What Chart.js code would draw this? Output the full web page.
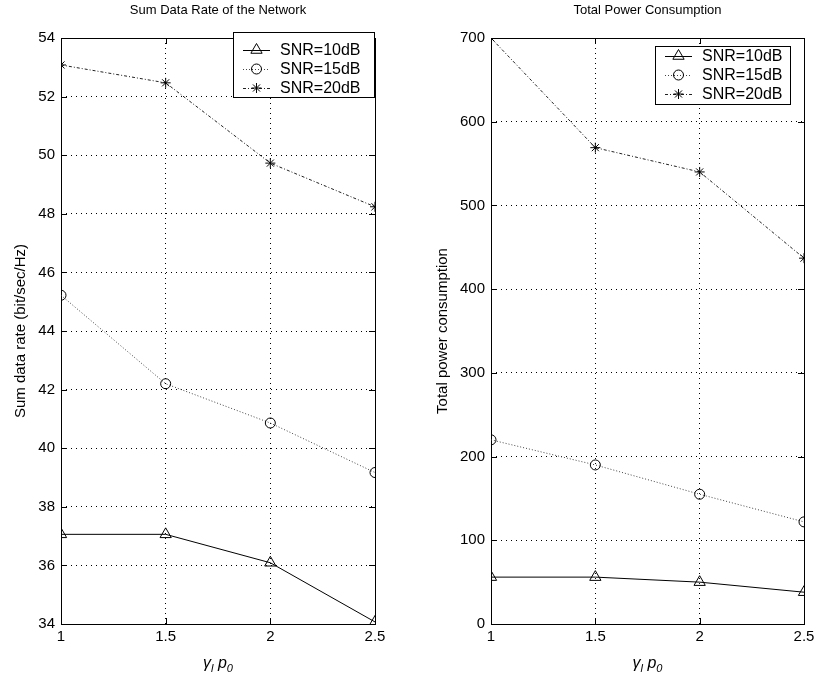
<!DOCTYPE html>
<html>
<head>
<meta charset="utf-8">
<script src="https://cdn.jsdelivr.net/npm/chart.js@4.4.0/dist/chart.umd.min.js"></script>
<style>
  body { margin: 0; background: #fff; }
  .box { position: absolute; top: 0; height: 681px; }
</style>
</head>
<body>
<div class="box" style="left:0;width:410px"><canvas id="rateChart"></canvas></div>
<div class="box" style="left:410px;width:409px"><canvas id="powerChart"></canvas></div>
<script>
// DADOS
const gammaP0 = [1, 1.5, 2, 2.5];
const snrNames = ['SNR=10dB', 'SNR=15dB', 'SNR=20dB'];

const rate10 = [37.06, 37.06, 36.09, 34.07];
const rate15 = [45.22, 42.2, 40.86, 39.17];
const rate20 = [53.08, 52.47, 49.73, 48.24];

const power10 = [56, 56, 50, 38];
const power15 = [220, 190, 155, 122];
const power20 = [700, 569, 540, 437];

const xTicks = [1, 1.5, 2, 2.5];
const rateTicks = [34, 36, 38, 40, 42, 44, 46, 48, 50, 52, 54];
const powerTicks = [0, 100, 200, 300, 400, 500, 600, 700];

const FONT = 'Liberation Sans, Arial, Helvetica, sans-serif';

// estilos das series (linha + marcador)
const seriesStyle = [
  { color: '#000', dash: [], marker: 'triangle', r: 6.5 },
  { color: '#444', dash: [1, 2], marker: 'circle', r: 5 },
  { color: '#222', dash: [3, 2, 1, 2], marker: 'star', r: 5 }
];

function drawMarker(ctx, type, x, y, r) {
  ctx.beginPath();
  if (type === 'triangle') {
    for (let i = 0; i < 3; i++) {
      const a = i * 2 * Math.PI / 3;
      const px = x + Math.sin(a) * r, py = y - Math.cos(a) * r;
      if (i === 0) ctx.moveTo(px, py); else ctx.lineTo(px, py);
    }
    ctx.closePath();
  } else if (type === 'circle') {
    ctx.arc(x, y, r, 0, Math.PI * 2);
  } else {
    for (let i = 0; i < 4; i++) {
      const a = i * Math.PI / 4;
      ctx.moveTo(x - Math.cos(a) * r, y - Math.sin(a) * r);
      ctx.lineTo(x + Math.cos(a) * r, y + Math.sin(a) * r);
    }
  }
  ctx.stroke();
}

function makeDatasets(values) {
  return values.map((vals, i) => ({
    label: snrNames[i],
    data: gammaP0.map((g, k) => ({ x: g, y: vals[k] })),
    borderColor: seriesStyle[i].color,
    borderWidth: 1,
    borderDash: seriesStyle[i].dash,
    pointStyle: seriesStyle[i].marker,
    pointRadius: seriesStyle[i].r,
    pointHoverRadius: seriesStyle[i].r,
    pointBorderColor: '#000',
    pointBackgroundColor: 'rgba(0,0,0,0)',
    pointBorderWidth: 1,
    tension: 0
  }));
}

// moldura + ticks internos estilo matlab
const matlabFrame = {
  id: 'matlabFrame',
  beforeDatasetsDraw(chart) {
    const { ctx, chartArea: a, scales: { x, y } } = chart;
    ctx.save();
    ctx.strokeStyle = '#000';
    ctx.lineWidth = 1;
    ctx.setLineDash([]);
    ctx.beginPath();
    x.ticks.forEach(t => {
      const px = Math.round(x.getPixelForValue(t.value)) + 0.5;
      ctx.moveTo(px, a.bottom); ctx.lineTo(px, a.bottom - 6);
      ctx.moveTo(px, a.top); ctx.lineTo(px, a.top + 6);
    });
    y.ticks.forEach(t => {
      const py = Math.round(y.getPixelForValue(t.value)) + 0.5;
      ctx.moveTo(a.left, py); ctx.lineTo(a.left + 6, py);
      ctx.moveTo(a.right, py); ctx.lineTo(a.right - 6, py);
    });
    ctx.stroke();
    ctx.strokeRect(Math.round(a.left) + 0.5, Math.round(a.top) + 0.5,
      Math.round(a.right - a.left), Math.round(a.bottom - a.top));
    ctx.restore();
  }
};

// legenda com linha e marcador
const snrLegend = {
  id: 'snrLegend',
  afterDraw(chart, args, opts) {
    const ctx = chart.ctx;
    ctx.save();
    ctx.fillStyle = '#fff';
    ctx.fillRect(opts.left, opts.top, opts.width, opts.height);
    ctx.strokeStyle = '#000';
    ctx.lineWidth = 1;
    ctx.setLineDash([]);
    ctx.strokeRect(opts.left + 0.5, opts.top + 0.5, opts.width, opts.height);
    ctx.font = '16px ' + FONT;
    ctx.textBaseline = 'middle';
    ctx.fillStyle = '#000';
    chart.data.datasets.forEach((ds, i) => {
      const yy = opts.top + opts.first + i * opts.step;
      const x0 = opts.left + 10, x1 = opts.left + 37;
      ctx.strokeStyle = ds.borderColor;
      ctx.setLineDash(ds.borderDash);
      ctx.beginPath();
      ctx.moveTo(x0, yy + 0.5); ctx.lineTo(x1, yy + 0.5);
      ctx.stroke();
      ctx.setLineDash([]);
      ctx.strokeStyle = '#000';
      drawMarker(ctx, ds.pointStyle, (x0 + x1) / 2, yy, ds.pointRadius);
      ctx.fillText(ds.label, opts.left + 47, yy + 1);
    });
    ctx.restore();
  }
};

// titulo centrado na area + rotulo do eixo x: gamma_l p_0
const axisText = {
  id: 'axisText',
  afterDraw(chart, args, opts) {
    const { ctx, chartArea: a } = chart;
    const cx = (a.left + a.right) / 2;
    ctx.save();
    ctx.fillStyle = '#000';
    ctx.font = '13px ' + FONT;
    ctx.textAlign = 'center';
    ctx.textBaseline = 'middle';
    ctx.fillText(opts.title, cx, 10);

    ctx.textAlign = 'left';
    ctx.textBaseline = 'alphabetic';
    const base = 668;
    const parts = [
      ['γ', 'italic 16px ' + FONT, 0],
      ['l', 'italic 11px ' + FONT, 4],
      [' ', '16px ' + FONT, 0],
      ['p', 'italic 16px ' + FONT, 0],
      ['0', 'italic 11px ' + FONT, 4]
    ];
    let w = 0;
    parts.forEach(p => { ctx.font = p[1]; w += ctx.measureText(p[0]).width; });
    let x = cx - w / 2;
    parts.forEach(p => {
      ctx.font = p[1];
      ctx.fillText(p[0], x, base + p[2]);
      x += ctx.measureText(p[0]).width;
    });
    ctx.restore();
  }
};

function buildChart(id, values, ticks, yMin, yMax, title, yTitle, yWidth, rightPad, yTitlePad, legendPos) {
  return new Chart(document.getElementById(id), {
    type: 'line',
    data: { datasets: makeDatasets(values) },
    plugins: [matlabFrame, snrLegend, axisText],
    options: {
      responsive: true,
      maintainAspectRatio: false,
      animation: false,
      events: [],
      layout: { padding: { top: 38, right: rightPad, bottom: 0, left: 0 } },
      plugins: {
        legend: { display: false },
        tooltip: { enabled: false },
        title: { display: false },
        snrLegend: legendPos,
        axisText: { title: title }
      },
      scales: {
        x: {
          type: 'linear',
          min: 1,
          max: 2.5,
          afterBuildTicks: s => { s.ticks = xTicks.map(v => ({ value: v })); },
          afterFit: s => { s.height = 57; },
          border: { display: false, dash: [1, 4] },
          grid: { color: '#000', lineWidth: 1, drawTicks: false },
          ticks: {
            color: '#000', padding: 4, maxRotation: 0,
            font: { family: FONT, size: 15 },
            callback: v => String(v)
          }
        },
        y: {
          type: 'linear',
          min: yMin,
          max: yMax,
          afterBuildTicks: s => { s.ticks = ticks.map(v => ({ value: v })); },
          afterFit: s => { s.width = yWidth; },
          border: { display: false, dash: [1, 4] },
          grid: { color: '#000', lineWidth: 1, drawTicks: false },
          ticks: {
            color: '#000', padding: 6,
            font: { family: FONT, size: 15 },
            callback: v => String(v)
          },
          title: {
            display: true,
            text: yTitle,
            color: '#000',
            font: { family: FONT, size: 15 },
            padding: { top: yTitlePad, bottom: 0 }
          }
        }
      }
    }
  });
}

buildChart('rateChart', [rate10, rate15, rate20], rateTicks, 34, 54,
  'Sum Data Rate of the Network', 'Sum data rate (bit/sec/Hz)', 61, 35, 12,
  { left: 233, top: 32, width: 141, height: 65, first: 18, step: 19 });

buildChart('powerChart', [power10, power15, power20], powerTicks, 0, 700,
  'Total Power Consumption', 'Total power consumption', 81, 15, 24,
  { left: 245, top: 46, width: 135, height: 58, first: 10, step: 19 });
</script>
</body>
</html>
